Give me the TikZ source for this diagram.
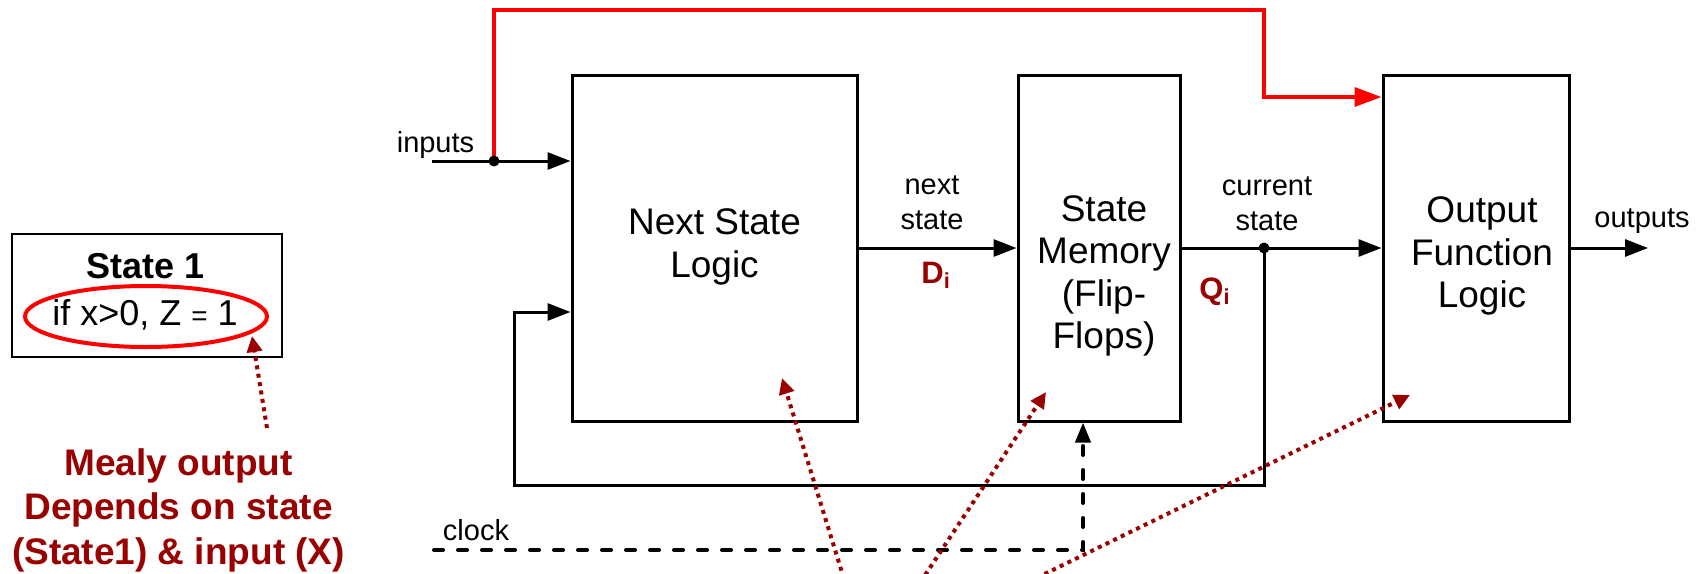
\documentclass[tikz,border=0pt]{standalone}
\usepackage{fontspec}
\setmainfont{Liberation Sans}
\usetikzlibrary{shapes.geometric,arrows.meta}
\definecolor{hintred}{HTML}{990000}
\definecolor{busred}{HTML}{FF0000}
\newcommand{\bigtext}{\fontsize{18.5}{21.25}\selectfont}
\newcommand{\smalltext}{\fontsize{14.5}{17.5}\selectfont}

\begin{document}
\begin{tikzpicture}[x=0.5pt,y=-0.5pt,
  block/.style={draw,line width=1.5pt,inner sep=0pt},
  blocktext/.style={font=\bigtext,align=center,inner sep=0pt},
  wirelabel/.style={font=\smalltext,align=center,inner sep=0pt},
  wire/.style={line width=1.5pt,-{Triangle[length=11.5pt,width=8.5pt]}},
  hint/.style={hintred,line width=2pt,dash pattern=on 2pt off 2.25pt,-{Triangle[length=8pt,width=7.5pt]}},
  sig/.style={text=hintred,font=\fontsize{15.5}{18}\selectfont\bfseries,inner sep=0pt,anchor=base west}]
\useasboundingbox (0,0) rectangle (1701,573);

% Next State Logic
\node[block,minimum width=142.5pt,minimum height=173pt] (nsl) at (714.5,248) {};
\node[blocktext] (nsltext) at (714.5,247) {Next State\\Logic};
% State Memory
\node[block,minimum width=81pt,minimum height=173pt] (sm) at (1099,248) {};
\node[blocktext] (smtext) at (1104,276) {State\\Memory\\(Flip-\\Flops)};
% Output Function Logic
\node[block,minimum width=93pt,minimum height=173pt] (ofl) at (1476,248) {};
\node[blocktext] (ofltext) at (1482,256) {Output\\Function\\Logic};

% wire corners
\coordinate (inp) at (432,161);
\coordinate (idot) at (494,161);
\coordinate (qdot) at (1264,248);
\coordinate (redtop) at (1264,10);
\coordinate (redin) at (1264,97);
\coordinate (fbcorner) at (514,485);
\coordinate (fbin) at (514,312);
\coordinate (outp) at (1648,248);
\coordinate (clk) at (434,550);
\coordinate (clkup) at (1083,550);

% inputs straight to the output logic
\draw[busred,line width=1.8pt,-{Triangle[length=13.5pt,width=9.5pt]}] (idot) |- (redtop) |- (redin -| ofl.west);
\draw[wire] (inp) -- (inp -| nsl.west);
\fill (idot) circle (2.75pt);
\node[wirelabel,anchor=base] (inlbl) at (435.5,152) {inputs};

% next state / current state
\draw[wire] (nsl.east) -- (sm.west);
\draw[wire] (sm.east) -- (ofl.west);
\fill (qdot) circle (2.75pt);
\draw[wire] (qdot) |- (fbcorner) |- (fbin -| nsl.west);
\draw[wire] (ofl.east) -- (outp);
\node[wirelabel] (nslbl) at (932,203) {next\\state};
\node[wirelabel] (cslbl) at (1267,204) {current\\state};
\node[wirelabel,anchor=base] (outlbl) at (1642,227) {outputs};
\node[sig] (dsig) at (921,283) {D\textsubscript{i}};
\node[sig] (qsig) at (1199,299) {Q\textsubscript{i}};

% clock
\draw[line width=2pt,line cap=round,dash pattern=on 4.5pt off 7.5pt,-{Triangle[length=10pt,width=7.5pt]}] (clk) -| (clkup |- sm.south);
\node[wirelabel,anchor=base] (clklbl) at (476,540) {clock};

% State 1
\node[draw,line width=1.1pt,minimum width=135pt,minimum height=61.5pt,inner sep=0pt] (st1) at (147,295.5) {};
\node[font=\fontsize{18}{21}\selectfont\bfseries,anchor=base,inner sep=0pt] (st1name) at (146,278) {State 1};
\node[font=\fontsize{18}{21}\selectfont,anchor=base,inner sep=0pt] (st1cond) at (145,325) {if x>0, Z {\fontsize{14}{14}\selectfont=} 1};
\node[draw=busred,ellipse,line width=2pt,minimum width=121pt,minimum height=30.5pt,inner sep=0pt] (ring) at (146,316.5) {};

% Mealy note
\node[text=hintred,font=\fontsize{18.5}{22.25}\selectfont\bfseries,align=center,inner sep=0pt] (mealy) at (178.5,510) {Mealy output\\Depends on state\\(State1) \& input (X)};
\coordinate (mtail) at (267,428);
\coordinate (mtip) at (252,336);
\draw[hint] (mtail) -- (mtip);

% pointers into the blocks
\coordinate (src) at (869,660);
\coordinate (nsltip) at (782,378);
\coordinate (smtip) at (1046,392);
\coordinate (ofltip) at (1410,395);
\foreach \t in {nsltip,smtip,ofltip}
  \draw[hint] (src) -- (\t);

\end{tikzpicture}
\end{document}
